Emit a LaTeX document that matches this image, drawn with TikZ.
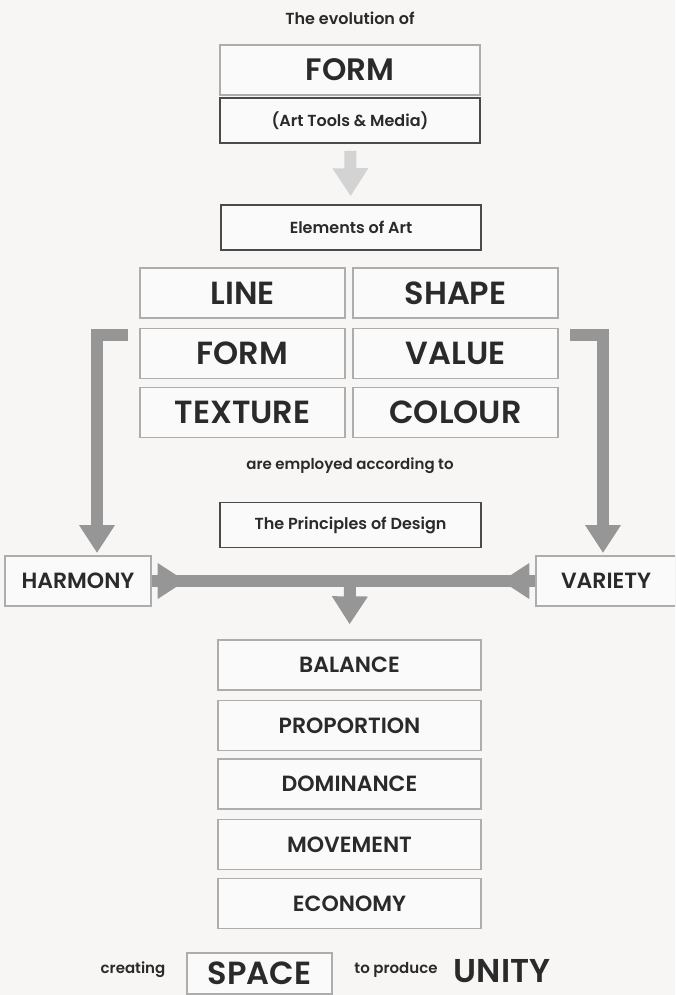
\documentclass[tikz,border=0pt]{standalone}
\usepackage{fontspec}
\setmainfont{Poppins}[BoldFont={Poppins SemiBold}]
\usepackage{tikz}
\usetikzlibrary{arrows.meta}
\definecolor{paper}{HTML}{F8F6F5}
\definecolor{ink}{HTML}{2A2A2A}
\definecolor{rim}{HTML}{ADADAD}
\definecolor{flow}{HTML}{969696}
\definecolor{pale}{HTML}{D3D3D3}
\newcommand{\fs}[1]{\fontsize{#1}{#1}\selectfont\bfseries}
\tikzset{
  box/.style={draw=rim,line width=1.3pt,fill=white!50!paper,text=ink,inner sep=0pt,minimum height=50pt},
  darkbox/.style={box,draw=ink!85,line width=1.6pt,minimum width=260pt,minimum height=45pt,font=\fs{16}},
  word/.style={text=ink,inner sep=0pt},
  flowbar/.style={draw=flow,line width=12pt},
  flowarrow/.style={flowbar,-{Triangle[width=34pt,length=28pt]}},
}
\begin{document}
\begin{tikzpicture}[x=1pt,y=-1pt]
\path[use as bounding box,fill=paper] (0,0) rectangle (675,995);
\clip (0,0) rectangle (675,995);
% top of the chart
\node[word,font=\fs{16}] (evo) at (350,18) {The evolution of};
\node[box,minimum width=260pt,font=\fs{31}] (form) at (350,70) {FORM};
\node[darkbox] (tools) at (350,120.5) {(Art Tools \& Media)};
\node[darkbox] (elem) at (351,227.5) {Elements of Art};
\draw[flowarrow,draw=pale,shorten <=7pt,shorten >=8pt] (tools) -- (elem);
% elements grid
\foreach \lab/\cx/\cy in {LINE/242.5/293,SHAPE/455.5/293,FORM/242.5/353.5,VALUE/455.5/353.5,TEXTURE/242.5/412.5,COLOUR/455.5/412.5}
  {\node[box,minimum width=205pt,font=\fs{32}] (el-\lab) at (\cx,\cy) {\lab};}
\node[word,font=\fs{15}] (employ) at (350,466) {are employed according to};
\node[darkbox,minimum width=261pt] (pod) at (350.5,525) {The Principles of Design};
% harmony and variety
\node[box,minimum width=146pt,font=\fs{22}] (harmony) at (78,581) {HARMONY};
\node[box,minimum width=140pt,font=\fs{22}] (variety) at (606,581) {VARIETY};
\coordinate (ltop) at (128,335);
\coordinate (ltip) at (97,553);
\coordinate (rtop) at (570,335);
\coordinate (rtip) at (603,553);
\draw[flowarrow] (ltop) -| (ltip);
\draw[flowarrow] (rtop) -| (rtip);
\draw[flowbar] (harmony.east) -- (variety.west);
\draw[flowarrow] (harmony.east) -- ++(34,0);
\draw[flowarrow] (variety.west) -- ++(-34,0);
% principles
\foreach \lab/\cy in {BALANCE/665,PROPORTION/725.5,DOMINANCE/784,MOVEMENT/844.5,ECONOMY/903.5}
  {\node[box,minimum width=263pt,font=\fs{22}] (pr-\lab) at (349.5,\cy) {\lab};}
\coordinate (mid) at (350,581);
\draw[flowarrow,shorten >=15pt] (mid) -- (pr-BALANCE.north);
% bottom line
\node[word,font=\fs{15}] (creating) at (133,970) {creating};
\node[box,minimum width=145pt,minimum height=41pt,font=\fs{32}] (space) at (259.5,973.5) {SPACE};
\node[word,font=\fs{33}] (unity) at (502,971) {UNITY};
\node[word,font=\fs{15}] (produce) at (396,970) {to produce};
\end{tikzpicture}
\end{document}
